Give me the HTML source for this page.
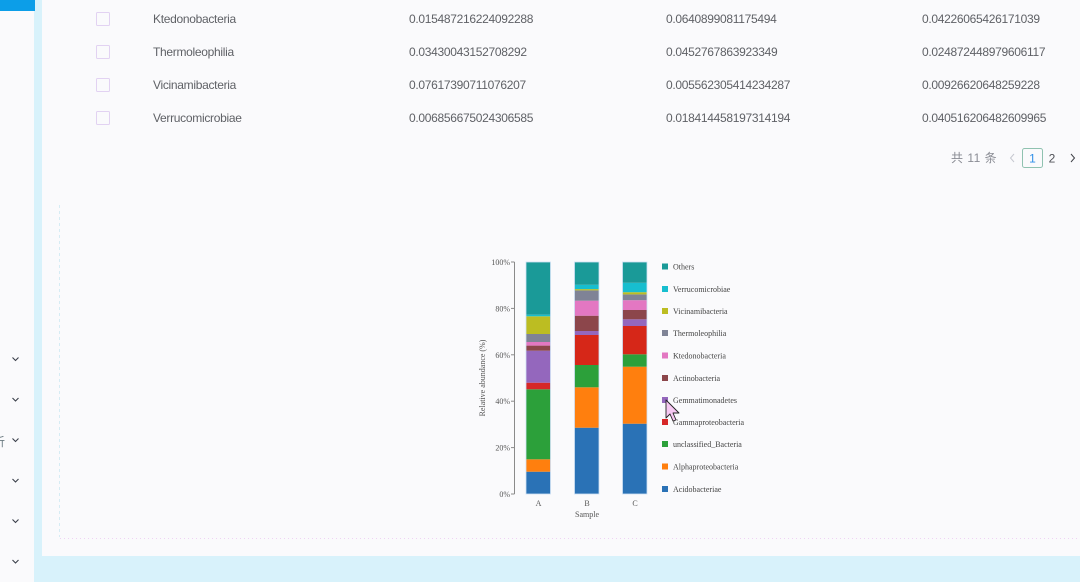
<!DOCTYPE html>
<html>
<head>
<meta charset="utf-8">
<style>
html,body{margin:0;padding:0;width:1080px;height:582px;overflow:hidden;background:#f9f9fc;}
svg{display:block;}
.t{font-family:"Liberation Sans","Noto Sans CJK SC",sans-serif;font-size:12px;fill:#5f6166;letter-spacing:-0.3px;}
.s{font-family:"Liberation Serif",serif;font-size:8px;fill:#555;}
.l{font-family:"Liberation Serif",serif;font-size:8px;fill:#444;}
</style>
</head>
<body>
<svg width="1080" height="582" viewBox="0 0 1080 582" xmlns="http://www.w3.org/2000/svg">
  <rect x="0" y="0" width="1080" height="582" fill="#fafafc"/>
  <rect x="34" y="0" width="8" height="582" fill="#d8f2fb"/>
  <rect x="34" y="556" width="1046" height="26" fill="#d8f2fb"/>
  <rect x="0" y="0" width="35" height="11" fill="#0c9ee8"/>

  <g fill="none" stroke="#3a3f4a" stroke-width="1.1">
    <polyline points="12.5,357.5 15.5,360.5 18.5,357.5"/>
    <polyline points="12.5,398 15.5,401 18.5,398"/>
    <polyline points="12.5,438.5 15.5,441.5 18.5,438.5"/>
    <polyline points="12.5,479 15.5,482 18.5,479"/>
    <polyline points="12.5,519.5 15.5,522.5 18.5,519.5"/>
    <polyline points="12.5,560 15.5,563 18.5,560"/>
  </g>
  <text x="-7" y="446" font-family="Liberation Sans,'Noto Sans CJK SC',sans-serif" font-size="12" fill="#6a7a80">析</text>

  <g fill="none" stroke="#e2d2f2" stroke-width="1">
    <rect x="96.5" y="12.5" width="13" height="13" rx="1"/>
    <rect x="96.5" y="45.5" width="13" height="13" rx="1"/>
    <rect x="96.5" y="78.5" width="13" height="13" rx="1"/>
    <rect x="96.5" y="111.5" width="13" height="13" rx="1"/>
  </g>
  <text class="t" x="153" y="23">Ktedonobacteria</text>
  <text class="t" x="409" y="23">0.015487216224092288</text>
  <text class="t" x="666" y="23">0.0640899081175494</text>
  <text class="t" x="922" y="23">0.04226065426171039</text>

  <text class="t" x="153" y="56">Thermoleophilia</text>
  <text class="t" x="409" y="56">0.03430043152708292</text>
  <text class="t" x="666" y="56">0.0452767863923349</text>
  <text class="t" x="922" y="56">0.024872448979606117</text>

  <text class="t" x="153" y="89">Vicinamibacteria</text>
  <text class="t" x="409" y="89">0.07617390711076207</text>
  <text class="t" x="666" y="89">0.005562305414234287</text>
  <text class="t" x="922" y="89">0.00926620648259228</text>

  <text class="t" x="153" y="122">Verrucomicrobiae</text>
  <text class="t" x="409" y="122">0.006856675024306585</text>
  <text class="t" x="666" y="122">0.018414458197314194</text>
  <text class="t" x="922" y="122">0.040516206482609965</text>

  <text x="951" y="162" font-family="Liberation Sans,'Noto Sans CJK SC',sans-serif" font-size="12" fill="#8a8c94" letter-spacing="0.5">共 11 条</text>
  <polyline points="1014,154 1010.5,158 1014,162" fill="none" stroke="#c6c8d0" stroke-width="1"/>
  <rect x="1022.5" y="148.5" width="20" height="19" rx="2" fill="#fafafc" stroke="#8fc2b0" stroke-width="1"/>
  <text x="1032.5" y="162.5" text-anchor="middle" font-family="Liberation Sans,sans-serif" font-size="12" fill="#2f8fe8">1</text>
  <text x="1052" y="162.5" text-anchor="middle" font-family="Liberation Sans,sans-serif" font-size="12" fill="#505258">2</text>
  <polyline points="1071,154 1074.5,158 1071,162" fill="none" stroke="#404248" stroke-width="1"/>

  <line x1="59.5" y1="205" x2="59.5" y2="537" stroke="#d6ecf4" stroke-width="1" stroke-dasharray="3,3"/>
  <line x1="60" y1="538.5" x2="1080" y2="538.5" stroke="#efd2f4" stroke-width="1" stroke-dasharray="1,3"/>

  <g>
    <line x1="514.5" y1="262" x2="514.5" y2="494" stroke="#8a8a8a" stroke-width="1"/>
    <g stroke="#8a8a8a" stroke-width="1">
      <line x1="511" y1="494" x2="514.5" y2="494"/>
      <line x1="511" y1="447.6" x2="514.5" y2="447.6"/>
      <line x1="511" y1="401.2" x2="514.5" y2="401.2"/>
      <line x1="511" y1="354.8" x2="514.5" y2="354.8"/>
      <line x1="511" y1="308.4" x2="514.5" y2="308.4"/>
      <line x1="511" y1="262" x2="514.5" y2="262"/>
    </g>
    <g text-anchor="end">
      <text class="s" x="510" y="497">0%</text>
      <text class="s" x="510" y="450.6">20%</text>
      <text class="s" x="510" y="404.2">40%</text>
      <text class="s" x="510" y="357.8">60%</text>
      <text class="s" x="510" y="311.4">80%</text>
      <text class="s" x="510" y="265">100%</text>
    </g>
    <text class="s" transform="translate(485,378) rotate(-90)" text-anchor="middle">Relative abundance (%)</text>
    <text class="s" x="538.5" y="506" text-anchor="middle">A</text>
    <text class="s" x="587" y="506" text-anchor="middle">B</text>
    <text class="s" x="635" y="506" text-anchor="middle">C</text>
    <text class="s" x="587" y="517" text-anchor="middle">Sample</text>

    <g>
      <rect x="526" y="471.7" width="24.5" height="22.3" fill="#2a72b6"/>
      <rect x="526" y="459.3" width="24.5" height="12.4" fill="#ff7f0e"/>
      <rect x="526" y="389.3" width="24.5" height="70" fill="#2ca03a"/>
      <rect x="526" y="382.7" width="24.5" height="6.6" fill="#d62728"/>
      <rect x="526" y="350.7" width="24.5" height="32" fill="#9467bd"/>
      <rect x="526" y="345.6" width="24.5" height="5.1" fill="#8c464b"/>
      <rect x="526" y="342" width="24.5" height="3.6" fill="#e377c2"/>
      <rect x="526" y="334" width="24.5" height="8" fill="#7f8396"/>
      <rect x="526" y="316.3" width="24.5" height="17.7" fill="#bcbd22"/>
      <rect x="526" y="314.7" width="24.5" height="1.6" fill="#17becf"/>
      <rect x="526" y="262" width="24.5" height="52.7" fill="#1a9a98"/>
      <rect x="526" y="262" width="24.5" height="232" fill="none" stroke="#cfe0f4" stroke-width="0.8"/>
    </g>
    <g>
      <rect x="574.5" y="427.7" width="24.5" height="66.3" fill="#2a72b6"/>
      <rect x="574.5" y="387.3" width="24.5" height="40.4" fill="#ff7f0e"/>
      <rect x="574.5" y="365" width="24.5" height="22.3" fill="#2ca03a"/>
      <rect x="574.5" y="335" width="24.5" height="30" fill="#d62718"/>
      <rect x="574.5" y="331" width="24.5" height="4" fill="#9467bd"/>
      <rect x="574.5" y="315.7" width="24.5" height="15.3" fill="#8c464b"/>
      <rect x="574.5" y="300.7" width="24.5" height="15" fill="#e377c2"/>
      <rect x="574.5" y="290.4" width="24.5" height="10.3" fill="#7f8396"/>
      <rect x="574.5" y="289.1" width="24.5" height="1.3" fill="#bcbd22"/>
      <rect x="574.5" y="284.8" width="24.5" height="4.3" fill="#17becf"/>
      <rect x="574.5" y="262" width="24.5" height="22.8" fill="#1a9a98"/>
      <rect x="574.5" y="262" width="24.5" height="232" fill="none" stroke="#cfe0f4" stroke-width="0.8"/>
    </g>
    <g>
      <rect x="622.5" y="423.7" width="24.5" height="70.3" fill="#2a72b6"/>
      <rect x="622.5" y="366.7" width="24.5" height="57" fill="#ff7f0e"/>
      <rect x="622.5" y="354.3" width="24.5" height="12.4" fill="#2ca03a"/>
      <rect x="622.5" y="326" width="24.5" height="28.3" fill="#d62718"/>
      <rect x="622.5" y="319.3" width="24.5" height="6.7" fill="#9467bd"/>
      <rect x="622.5" y="310" width="24.5" height="9.3" fill="#8c464b"/>
      <rect x="622.5" y="300.2" width="24.5" height="9.8" fill="#e377c2"/>
      <rect x="622.5" y="294.4" width="24.5" height="5.8" fill="#7f8396"/>
      <rect x="622.5" y="292.2" width="24.5" height="2.2" fill="#bcbd22"/>
      <rect x="622.5" y="282.8" width="24.5" height="9.4" fill="#17becf"/>
      <rect x="622.5" y="262" width="24.5" height="20.8" fill="#1a9a98"/>
      <rect x="622.5" y="262" width="24.5" height="232" fill="none" stroke="#cfe0f4" stroke-width="0.8"/>
    </g>

    <g>
      <rect x="662" y="263.5" width="6" height="6" fill="#1a9a98"/>
      <text class="l" x="673" y="269.5">Others</text>
      <rect x="662" y="286" width="6" height="6" fill="#17becf"/>
      <text class="l" x="673" y="292">Verrucomicrobiae</text>
      <rect x="662" y="308" width="6" height="6" fill="#bcbd22"/>
      <text class="l" x="673" y="314">Vicinamibacteria</text>
      <rect x="662" y="330" width="6" height="6" fill="#7f8396"/>
      <text class="l" x="673" y="336">Thermoleophilia</text>
      <rect x="662" y="352.5" width="6" height="6" fill="#e377c2"/>
      <text class="l" x="673" y="358.5">Ktedonobacteria</text>
      <rect x="662" y="375" width="6" height="6" fill="#8c464b"/>
      <text class="l" x="673" y="381">Actinobacteria</text>
      <rect x="662" y="397" width="6" height="6" fill="#9467bd"/>
      <text class="l" x="673" y="403">Gemmatimonadetes</text>
      <rect x="662" y="419" width="6" height="6" fill="#d62728"/>
      <text class="l" x="673" y="425">Gammaproteobacteria</text>
      <rect x="662" y="441" width="6" height="6" fill="#2ca03a"/>
      <text class="l" x="673" y="447">unclassified_Bacteria</text>
      <rect x="662" y="463.5" width="6" height="6" fill="#ff7f0e"/>
      <text class="l" x="673" y="469.5">Alphaproteobacteria</text>
      <rect x="662" y="486" width="6" height="6" fill="#2a72b6"/>
      <text class="l" x="673" y="492">Acidobacteriae</text>
    </g>

    <polygon points="666,400 666,418 670,414 673,421 676,420 673,413 679,413" fill="#f6c8f2" stroke="#222" stroke-width="0.9" stroke-linejoin="round"/>
  </g>
</svg>
</body>
</html>
